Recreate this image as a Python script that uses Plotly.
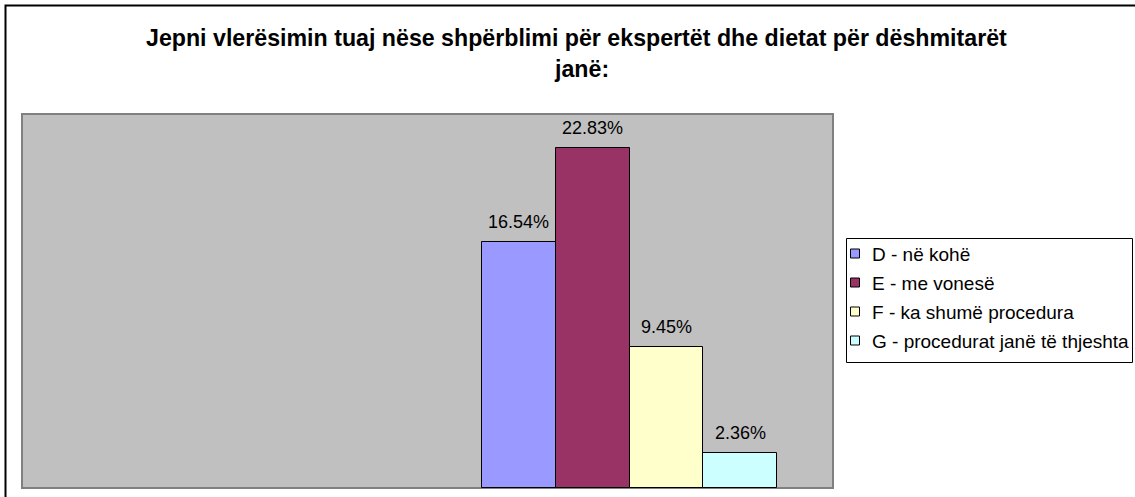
import plotly.graph_objects as go

# ---- data ----
series_names = ["D - në kohë", "E - me vonesë", "F - ka shumë procedura", "G - procedurat janë të thjeshta"]
series_values = [16.54, 22.83, 9.45, 2.36]
series_colors = ["#9999FF", "#993366", "#FFFFCC", "#CCFFFF"]
title_line1 = "Jepni vlerësimin tuaj nëse shpërblimi për ekspertët dhe dietat për dëshmitarët"
title_line2 = "janë:"

W, H = 1135, 497
PL, PR, PT, PB = 22, 833, 114, 488  # plot area in px
FONT = "Liberation Sans, Arial, sans-serif"


def px_x(px):
    return (px - PL) / (PR - PL)


def px_y(py):
    return (PB - py) / (PB - PT)


positions = list(range(len(series_values)))

fig = go.Figure()
fig.add_trace(go.Bar(
    x=positions,
    y=series_values,
    width=1,
    marker=dict(color=series_colors, line=dict(color="#000000", width=1)),
    showlegend=False,
    hoverinfo="skip",
))

annotations = []
for p, v in zip(positions, series_values):
    annotations.append(dict(
        x=p, y=v, xref="x", yref="y", text=f"{v:.2f}%", showarrow=False,
        yanchor="middle", yshift=20, font=dict(family=FONT, size=18, color="#000000"),
    ))

# title (two lines)
annotations.append(dict(x=px_x(576), y=px_y(38), xref="paper", yref="paper",
                        text=f"<b>{title_line1}</b>", showarrow=False,
                        xanchor="center", yanchor="middle",
                        font=dict(family=FONT, size=23.2, color="#000000")))
annotations.append(dict(x=px_x(581), y=px_y(69), xref="paper", yref="paper",
                        text=f"<b>{title_line2}</b>", showarrow=False,
                        xanchor="center", yanchor="middle",
                        font=dict(family=FONT, size=23.2, color="#000000")))

shapes = []
# outer chart frame
shapes.append(dict(type="rect", xref="paper", yref="paper",
                   x0=px_x(5.5), x1=px_x(1200), y0=px_y(5.5), y1=px_y(600),
                   line=dict(color="#000000", width=2), layer="below"))
# plot area border
shapes.append(dict(type="rect", xref="paper", yref="paper",
                   x0=0, x1=1, y0=0, y1=1,
                   line=dict(color="#808080", width=2), layer="below"))
# custom legend
shapes.append(dict(type="rect", xref="paper", yref="paper",
                   x0=px_x(846.5), x1=px_x(1132.5), y0=px_y(362.5), y1=px_y(238.5),
                   line=dict(color="#000000", width=1), fillcolor="#FFFFFF", layer="above"))
for i, (name, col) in enumerate(zip(series_names, series_colors)):
    cy = 254.5 + 29 * i
    shapes.append(dict(type="rect", xref="paper", yref="paper",
                       x0=px_x(850.5), x1=px_x(859.5), y0=px_y(cy + 3.5), y1=px_y(cy - 5.5),
                       line=dict(color="#000000", width=1), fillcolor=col, layer="above"))
    annotations.append(dict(x=px_x(870), y=px_y(cy), xref="paper", yref="paper",
                            text=name, showarrow=False, xanchor="left", yanchor="middle",
                            font=dict(family=FONT, size=19, color="#000000")))

unit = (777 - 482) / 4.0
x_lo = -0.5 - (482 - PL) / unit
x_hi = 3.5 + (PR - 777) / unit

fig.update_layout(
    width=W, height=H,
    margin=dict(l=PL, r=W - PR, t=PT, b=H - PB, pad=0),
    paper_bgcolor="#FFFFFF",
    plot_bgcolor="#C0C0C0",
    bargap=0,
    xaxis=dict(range=[x_lo, x_hi], showticklabels=False, showgrid=False, zeroline=False,
               showline=False, ticks="", fixedrange=True),
    yaxis=dict(range=[0, 25.1], showticklabels=False, showgrid=False, zeroline=False,
               showline=False, ticks="", fixedrange=True),
    annotations=annotations,
    shapes=shapes,
    showlegend=False,
)

fig.write_html(
    "out.html",
    config={"displayModeBar": False},
    post_script="document.body.style.margin='0';document.body.style.overflow='hidden';",
)
